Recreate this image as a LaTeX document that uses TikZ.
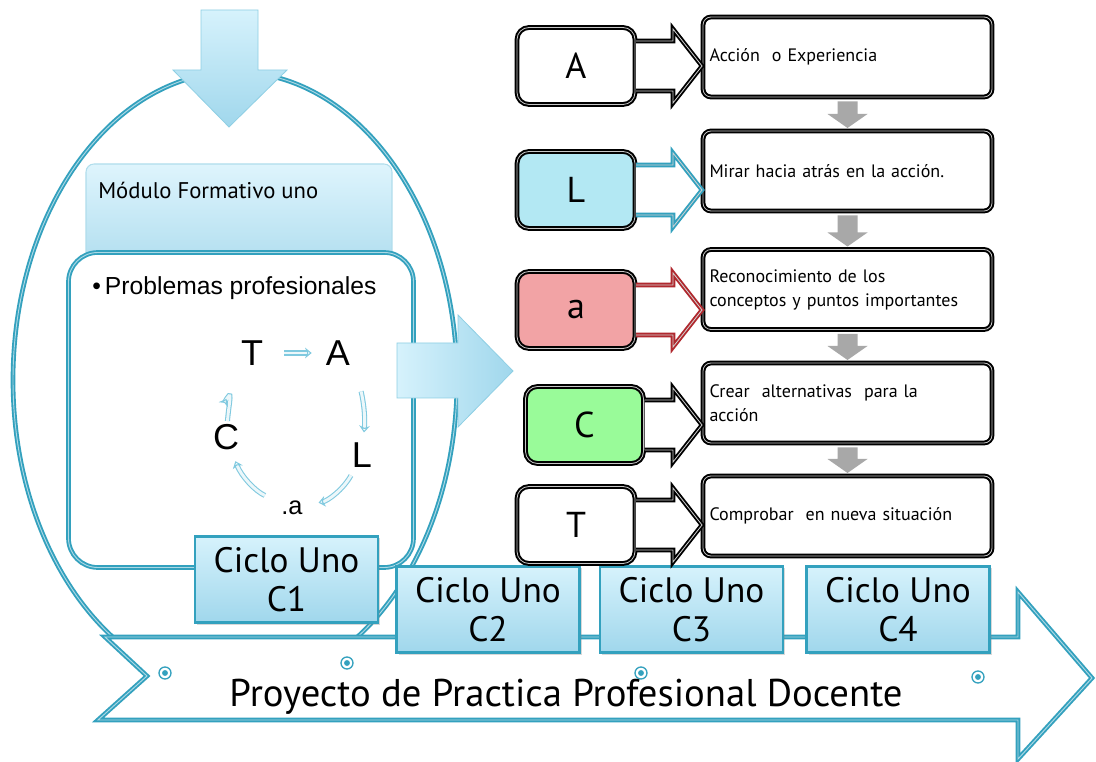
\documentclass[tikz,border=0pt]{standalone}
\usepackage{fontspec}
\setmainfont{PT Sans}
\newfontfamily\arialf{Liberation Sans}
\usetikzlibrary{arrows.meta,shadows,calc}
\newdimen\px \px=0.75pt
\definecolor{teal1}{HTML}{33A1BE}
\definecolor{gtop}{HTML}{D6F2FC}
\definecolor{gbot}{HTML}{A0D7EC}
\definecolor{arrb}{HTML}{8ECFE4}
\definecolor{cyl}{HTML}{B3E8F3}
\definecolor{pinkf}{HTML}{F2A3A5}
\definecolor{greenf}{HTML}{99FB99}
\definecolor{redd}{HTML}{B0282E}
\definecolor{grayar}{HTML}{A8A8A8}
\definecolor{cycar}{HTML}{7FC9DF}
\tikzset{
  tealdbl/.style={draw=teal1, double=white!60!teal1, double distance=0.7pt, line width=1.4pt},
  blackdbl/.style={draw=black, double=gray!45, double distance=0.6pt, line width=1.5pt},
  cbox/.style={rectangle, draw=teal1, line width=2pt, top color=gtop, bottom color=gbot,
    minimum width=183\px, minimum height=86\px, align=center, inner sep=0pt,
    font=\fontsize{26.5}{29}\selectfont,
    drop shadow={shadow xshift=1.5pt, shadow yshift=-1.5pt, opacity=0.3}},
  lbox/.style={rectangle, rounded corners=9pt, blackdbl, minimum width=118\px,
    minimum height=77\px, inner sep=0pt, font=\fontsize{27}{30}\selectfont},
  tbox/.style={rectangle, rounded corners=6pt, blackdbl, fill=white, minimum width=289\px,
    minimum height=80\px, text width=276\px, align=left, inner sep=0pt,
    font=\fontsize{13.5}{18}\selectfont},
  cyc/.style={draw=cycar, double=white!85!cycar, double distance=2.2pt, line width=0.8pt,
    -{Stealth[length=5pt,width=8pt,open]}},
  cletter/.style={font=\arialf\fontsize{27}{30}\selectfont, inner sep=0pt},
  dotn/.style={circle, draw=teal1, fill=white, line width=1pt, minimum size=9pt, inner sep=0pt}
}
\newcommand\blockarr[3]{%
  \filldraw[fill=white, draw=#3, double=gray!35, double distance=0.6pt, line width=1.4pt]
    let \p1=(#1.east), \p2=(#2.west) in
    (\x1,\y1+18.75pt) -- (\x2-21.75pt,\y1+18.75pt) -- (\x2-21.75pt,\y1+27.75pt) -- (\x2,\y1)
    -- (\x2-21.75pt,\y1-27.75pt) -- (\x2-21.75pt,\y1-18.75pt) -- (\x1,\y1-18.75pt);}
\newcommand\grayarr[2]{%
  \fill[grayar] let \p1=(#1.south), \p2=(#2.north) in
    (\x1-7.5pt,\y1-2.5pt) -- (\x1+7.5pt,\y1-2.5pt) -- (\x1+7.5pt,\y2+12pt) -- (\x1+15pt,\y2+12pt)
    -- (\x1,\y2+1.5pt) -- (\x1-15pt,\y2+12pt) -- (\x1-7.5pt,\y2+12pt) -- cycle;}
\begin{document}
\begin{tikzpicture}[x=0.75pt,y=-0.75pt]
\path[fill=white] (0,0) rectangle (1096,762);
\useasboundingbox (0,0) rectangle (1096,762);
% egg outline
\begin{scope}
\clip (0,0) rectangle (1096,637);
\draw[tealdbl] (235,380) ellipse [x radius=222, y radius=308];
\end{scope}
% top down arrow
\draw[draw=arrb, top color=gtop, bottom color=gbot, line width=0.6pt]
  (201,10) -- (258,10) -- (258,70) -- (287,70) -- (229,127) -- (173,70) -- (201,70) -- cycle;
% modulo box
\node[rectangle, rounded corners=6pt, draw=arrb!70, line width=0.8pt, top color=gtop!80!white,
  bottom color=gbot!80!white, minimum width=306\px, minimum height=96\px] (mod) at (239,212) {};
\node[anchor=west, font=\fontsize{17}{20}\selectfont, inner sep=0pt] (modt) at (98,190) {Módulo Formativo uno};
% white box
\node[rectangle, rounded corners=22pt, tealdbl, fill=white, minimum width=345\px,
  minimum height=315\px] (wb) at (241,410) {};
\node[anchor=west, font=\arialf\fontsize{18.5}{22}\selectfont, inner sep=0pt] (prob) at (92,288) {•\,Problemas profesionales};
% cycle
\node[cletter] (T) at (252,353) {T};
\node[cletter] (A) at (338,353) {A};
\node[cletter] (L) at (362,455) {L};
\node[cletter] (C) at (226,437) {C};
\node[font=\arialf\fontsize{19}{22}\selectfont, inner sep=0pt] (a) at (292,508) {.a};
\draw[cyc, shorten <=21\px, shorten >=14\px] (T) -- (A);
\draw[cyc, shorten <=30\px, shorten >=10\px] (A) to[bend left=18] (L);
\draw[cyc, shorten <=9\px, shorten >=16\px] (L) to[bend left=25] (a);
\draw[cyc, shorten <=18\px, shorten >=12\px] (a) to[bend left=22] (C);
\draw[cyc, shorten <=3\px, shorten >=38\px] (C) to[bend left=12] (T);
% big right arrow
\draw[draw=arrb, left color=gtop, right color=gbot, line width=0.6pt]
  (397,343) -- (458,343) -- (458,315) -- (513,371) -- (458,427) -- (458,398) -- (397,398) -- cycle;
% ciclo 1
\node[cbox] (c1) at (286.5,579.5) {Ciclo Uno\\C1};
% banner
\draw[tealdbl, fill=white] (105,637) -- (1018,637) -- (1018,592) -- (1092,678) -- (1018,759)
  -- (1018,720) -- (98,720) -- (147,676) -- cycle;
\foreach \n/\x/\y in {d1/165/673, d2/347/663, d3/641/673, d4/978/677}{
  \node[dotn] (\n) at (\x,\y) {};
  \fill[teal1] (\x,\y) circle (2.2pt);
}
\node[font=\fontsize{29}{32}\selectfont, inner sep=0pt] (ban) at (566,697) {Proyecto de Practica Profesional Docente};
% other cycles
\node[cbox] (c2) at (488,609.5) {Ciclo Uno\\C2};
\node[cbox] (c3) at (691.5,609.5) {Ciclo Uno\\C3};
\node[cbox] (c4) at (898,609.5) {Ciclo Uno\\C4};
% right side
\node[tbox] (t1) at (847.5,57) {Acción\ \ o Experiencia};
\node[tbox] (t2) at (847.5,171) {Mirar hacia atrás en la acción.};
\node[tbox] (t3) at (847.5,289.5) {Reconocimiento de los\\conceptos y puntos importantes};
\node[tbox] (t4) at (847.5,403) {Crear\ \ alternativas\ \ para la\\acción};
\node[tbox] (t5) at (847.5,516) {Comprobar\ \ en nueva situación};
\node[lbox, fill=white] (lA) at (576,66) {A};
\node[lbox, fill=cyl] (lL) at (576,190) {L};
\node[lbox, fill=pinkf] (la) at (576,310) {a};
\node[lbox, fill=greenf] (lC) at (584.5,425) {C};
\node[lbox, fill=white] (lT) at (576,525) {T};
\blockarr{lA}{t1}{black}
\blockarr{lL}{t2}{teal1}
\blockarr{la}{t3}{redd}
\blockarr{lC}{t4}{black}
\blockarr{lT}{t5}{black}
\grayarr{t1}{t2}
\grayarr{t2}{t3}
\grayarr{t3}{t4}
\grayarr{t4}{t5}
\end{tikzpicture}
\end{document}
